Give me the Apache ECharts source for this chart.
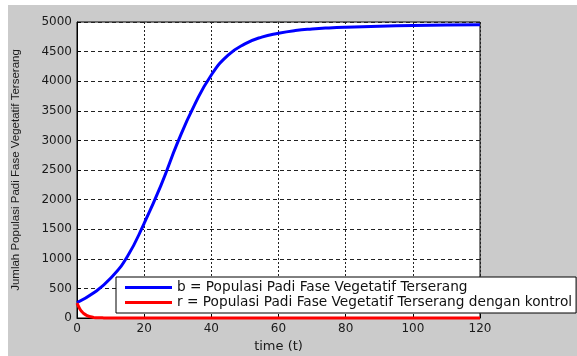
<!DOCTYPE html>
<html>
<head>
<meta charset="utf-8">
<script src="https://cdn.jsdelivr.net/npm/echarts@6/dist/echarts.min.js"></script>
<style>
  html, body { margin: 0; padding: 0; background: #fff; }
  #chart { position: absolute; left: 8px; top: 5px; width: 569px; height: 351px; background: #cbcbcb; }
</style>
</head>
<body>
<div id="chart"></div>
<script>
// time values and population
const blueT = [0, 5, 10, 15, 20, 25, 30, 35, 40, 45, 50, 55, 60, 65, 70, 75, 80, 90, 100, 110, 120]
const blueV = [260, 425, 670, 1040, 1600, 2240, 2970, 3600, 4105, 4440, 4630, 4745, 4810, 4855, 4882, 4900, 4912, 4928, 4940, 4948, 4955]
const redT = [0, 0.5, 1, 1.5, 2, 3, 4, 5, 6, 8, 10, 20, 40, 60, 80, 100, 120]
const redV = [250, 190, 140, 105, 75, 40, 20, 10, 5, 2, 0, 0, 0, 0, 0, 0, 0]
const xTicks = { min: 0, max: 120, interval: 20 }
const yTicks = { min: 0, max: 5000, interval: 500 }

const blueName = 'b = Populasi Padi Fase Vegetatif Terserang'
const redName = 'r = Populasi Padi Fase Vegetatif Terserang dengan kontrol'

const chart = echarts.init(document.getElementById('chart'))

const labelStyle = { color: '#1a1a1a', fontSize: 12, fontFamily: 'DejaVu Sans, sans-serif' }

const option = {
  animation: false,
  grid: {
    left: 69, top: 17, right: 97, bottom: 38,
    outerBoundsMode: 'none',
    show: true, backgroundColor: '#fff', borderColor: '#000', borderWidth: 1,
  },
  legend: {
    orient: 'vertical',
    left: 108, top: 272,
    padding: [3, 4, 3, 9],
    itemGap: 0,
    itemWidth: 47, itemHeight: 3,
    icon: 'rect',
    backgroundColor: '#fff',
    borderColor: '#000', borderWidth: 1, borderRadius: 0,
    textStyle: { color: '#111', fontSize: 13.7, fontFamily: 'DejaVu Sans, sans-serif', lineHeight: 15 },
    data: [blueName, redName],
  },
  xAxis: {
    type: 'value',
    ...xTicks,
    name: 'time (t)',
    nameLocation: 'middle',
    nameGap: 17,
    nameTextStyle: { ...labelStyle, fontSize: 13 },
    axisLine: { show: true, lineStyle: { color: '#000' } },
    axisTick: { inside: true, length: 4, lineStyle: { color: '#000' } },
    axisLabel: { ...labelStyle, margin: 5 },
    splitLine: { show: true, lineStyle: { color: '#222', type: [2, 2], width: 1 } },
  },
  yAxis: {
    type: 'value',
    ...yTicks,
    name: 'Jumlah Populasi Padi Fase Vegetatif Terserang',
    nameLocation: 'middle',
    nameGap: 55,
    nameTextStyle: { ...labelStyle, fontFamily: 'Liberation Sans, Arial, sans-serif', fontSize: 11.5 },
    axisLine: { show: true, lineStyle: { color: '#000' } },
    axisTick: { inside: true, length: 4, lineStyle: { color: '#000' } },
    axisLabel: { ...labelStyle, margin: 5, formatter: (v) => String(v) },
    splitLine: { show: true, lineStyle: { color: '#222', type: [4, 3], width: 1 } },
  },
  series: [
    {
      name: blueName,
      type: 'line',
      data: blueT.map((t, i) => [t, blueV[i]]),
      smooth: 0.5,
      symbol: 'none',
      clip: false,
      itemStyle: { color: '#0000ff' },
      lineStyle: { color: '#0000ff', width: 3 },
    },
    {
      name: redName,
      type: 'line',
      data: redT.map((t, i) => [t, redV[i]]),
      smooth: 0.3,
      symbol: 'none',
      clip: false,
      itemStyle: { color: '#ff0000' },
      lineStyle: { color: '#ff0000', width: 3 },
    },
  ],
}

chart.setOption(option)
</script>
</body>
</html>
